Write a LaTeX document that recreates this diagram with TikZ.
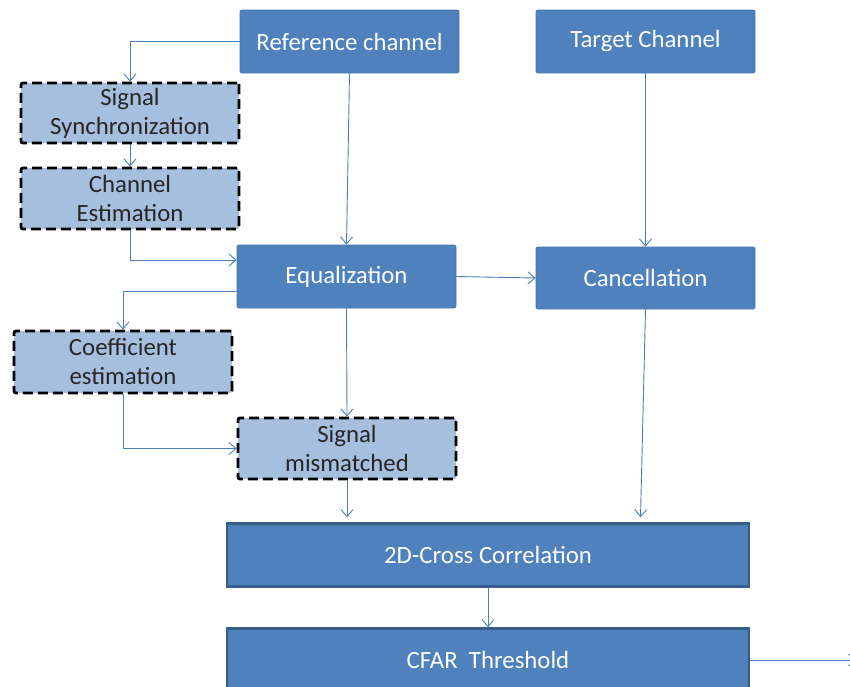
\documentclass[tikz,border=0pt]{standalone}
\usepackage{fontspec}
\setmainfont{Carlito}
\usetikzlibrary{arrows.meta}
\definecolor{boxblue}{HTML}{4F81BD}
\definecolor{edgeblue}{HTML}{385D8A}
\definecolor{paleblue}{HTML}{A7BFDE}
\definecolor{linkblue}{HTML}{4A7EBB}

\begin{document}
\begin{tikzpicture}[x=1pt,y=-1pt,
  every node/.style={font=\fontsize{24.8}{29}\selectfont, align=center, inner sep=0pt},
  mainbox/.style={fill=boxblue, draw=boxblue!92!black, line width=0.8pt,
    rounded corners=2pt, text=white},
  widebox/.style={fill=boxblue, draw=edgeblue, line width=2.5pt, text=white},
  optbox/.style={fill=paleblue, draw=black, line width=2.8pt,
    dash pattern=on 10pt off 5pt, rounded corners=2pt, text=black!85},
  link/.style={draw=linkblue, line width=0.9pt,
    -{Straight Barb[length=7pt,width=12pt]}}
]
\useasboundingbox (0,0) rectangle (850,686);

% processing blocks
\node[mainbox, minimum width=219pt, minimum height=63pt] (ref)  at (349.5,41.5) {Reference channel};
\node[mainbox, minimum width=219pt, minimum height=63pt] (tgt)  at (645.5,41.5) {Target Channel};
\node[optbox,  minimum width=218pt, minimum height=60pt] (sync) at (130,113)    {Signal\\Synchronization};
\node[optbox,  minimum width=218pt, minimum height=61pt] (chest) at (130,198.5) {Channel\\Estimation};
\node[mainbox, minimum width=219pt, minimum height=63pt] (eq)   at (346.5,276.5) {Equalization};
\node[mainbox, minimum width=219pt, minimum height=62pt] (canc) at (645.5,278)  {Cancellation};
\node[optbox,  minimum width=218pt, minimum height=62pt] (coef) at (123,362)    {Coefficient\\estimation};
\node[optbox,  minimum width=218pt, minimum height=61pt] (sm)   at (347,448.5)  {Signal\\mismatched};
\node[widebox, minimum width=522pt, minimum height=63pt] (xc)   at (488,555)    {2D-Cross Correlation};
\node[widebox, minimum width=522pt, minimum height=63pt] (cfar) at (488,660)    {CFAR\ \ Threshold};

% signal flow
\draw[link] (ref.west) -| (sync.north);
\draw[link] (sync.south) -- (chest.north);
\draw[link] (chest.south) |- ([yshift=16.5pt]eq.west);
\draw[link] (ref.south) -- (eq.north);
\draw[link] (tgt.south) -- (canc.north);
\draw[link] (eq.east) -- (canc.west);
\draw[link] ([yshift=-14.5pt]eq.west) -| (coef.north);
\draw[link] (coef.south) |- (sm.west);
\draw[link] (eq.south) -- (sm.north);
\draw[link] (sm.south) -- ([yshift=5pt]sm.south |- xc.north);
\draw[link] (canc.south) -- ([xshift=-5pt,yshift=5pt]canc.south |- xc.north);
\draw[link] (xc.south) -- (cfar.north);
\draw[link] (cfar.east) -- ++(106,0);
\end{tikzpicture}
\end{document}
